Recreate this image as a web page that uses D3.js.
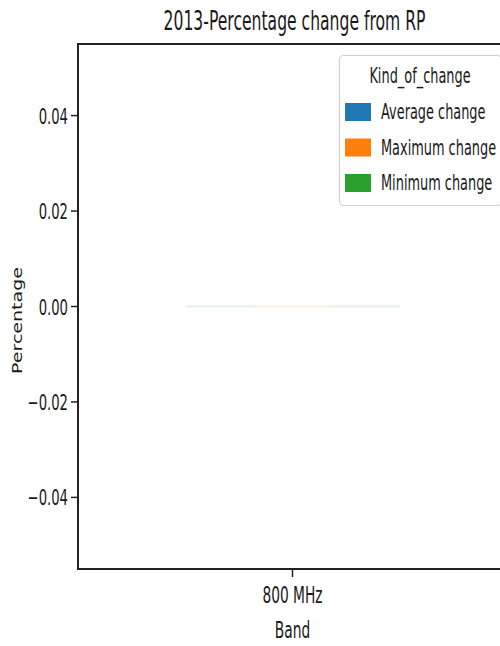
<!DOCTYPE html>
<html>
<head>
<meta charset="utf-8">
<script src="https://cdn.jsdelivr.net/npm/d3@7"></script>
<style>
  html, body { margin: 0; padding: 0; background: #fff; }
  svg { display: block; }
  text { font-family: "DejaVu Sans", sans-serif; fill: #1a1a1a; }
</style>
</head>
<body>
<svg id="chart" width="500" height="646"></svg>
<script>
// ---- data ----
const categories = ["800 MHz"];
const kinds = ["Average change", "Maximum change", "Minimum change"];
const averageChange = [0];
const maximumChange = [0];
const minimumChange = [0];
const yTicks = [-0.04, -0.02, 0.00, 0.02, 0.04];
const title = "2013-Percentage change from RP";
const xLabel = "Band";
const yLabel = "Percentage";
const legendTitle = "Kind_of_change";

const seriesValues = [averageChange, maximumChange, minimumChange];
const colors = ["#1f77b4", "#ff7f0e", "#2ca02c"];

(function () {
const svg = d3.select("#chart");
const mLeft = 78, mRight = 507, mTop = 44, mBottom = 569;
const SX = 0.6; // horizontal squeeze of text

const x = d3.scaleLinear().domain([-0.8, 0.8]).range([mLeft, mRight]);
const y = d3.scaleLinear().domain([-0.055, 0.055]).range([mBottom, mTop]);
const groupWidth = 0.8;
const barW = groupWidth / kinds.length;

// bars
const bars = [];
categories.forEach((c, ci) => {
  kinds.forEach((k, ki) => {
    bars.push({ci, ki, v: seriesValues[ki][ci]});
  });
});
const gBars = svg.append("g");
gBars.selectAll("rect.bar").data(bars).enter().append("rect")
  .attr("class", "bar")
  .attr("x", d => x(d.ci - groupWidth / 2 + d.ki * barW))
  .attr("width", d => x(barW) - x(0))
  .attr("y", d => y(Math.max(0, d.v)))
  .attr("height", d => Math.abs(y(d.v) - y(0)))
  .attr("fill", d => colors[d.ki]);
// faint edge of (zero-height) bars
gBars.selectAll("line.edge").data(bars).enter().append("line")
  .attr("x1", d => x(d.ci - groupWidth / 2 + d.ki * barW))
  .attr("x2", d => x(d.ci - groupWidth / 2 + (d.ki + 1) * barW))
  .attr("y1", d => y(d.v)).attr("y2", d => y(d.v))
  .attr("stroke", d => colors[d.ki]).attr("stroke-opacity", 0.12)
  .attr("stroke-width", 2);

// spines
const spineColor = "#222";
svg.append("rect").attr("x", mLeft).attr("y", mTop)
  .attr("width", mRight - mLeft).attr("height", mBottom - mTop)
  .attr("fill", "none").attr("stroke", spineColor).attr("stroke-width", 2);

// y ticks
const gy = svg.append("g");
yTicks.forEach(t => {
  gy.append("line").attr("x1", mLeft - 7).attr("x2", mLeft)
    .attr("y1", y(t)).attr("y2", y(t)).attr("stroke", spineColor).attr("stroke-width", 1.5);
  const lbl = d3.format(".2f")(t).replace("-", "\u2212");
  gy.append("text")
    .attr("transform", `translate(${mLeft - 10},${y(t) + 8}) scale(${SX},1)`)
    .attr("text-anchor", "end").attr("font-size", 22).text(lbl);
});

// x ticks
const gx = svg.append("g");
categories.forEach((c, i) => {
  gx.append("line").attr("x1", x(i)).attr("x2", x(i))
    .attr("y1", mBottom).attr("y2", mBottom + 8).attr("stroke", spineColor).attr("stroke-width", 1.5);
  gx.append("text")
    .attr("transform", `translate(${x(i)},${mBottom + 34}) scale(${SX},1)`)
    .attr("text-anchor", "middle").attr("font-size", 23).text(c);
});

// axis labels
svg.append("text")
  .attr("transform", `translate(${x(0)},${638}) scale(${SX},1)`)
  .attr("text-anchor", "middle").attr("font-size", 23).text(xLabel);
svg.append("text")
  .attr("transform", `translate(${22},${y(0) + 14}) scale(0.72,1) rotate(-90)`)
  .attr("text-anchor", "middle").attr("font-size", 19).text(yLabel);

// title
svg.append("text")
  .attr("transform", `translate(${x(0) + 2},${30}) scale(${SX},1)`)
  .attr("text-anchor", "middle").attr("font-size", 26).text(title);

// legend
const lg = svg.append("g");
lg.append("rect").attr("x", 339.5).attr("y", 55.5).attr("width", 162).attr("height", 150)
  .attr("rx", 4).attr("fill", "#fff").attr("fill-opacity", 0.8)
  .attr("stroke", "#d0d0d0").attr("stroke-width", 1.2);
lg.append("text")
  .attr("transform", `translate(${420},${83}) scale(${SX},1)`)
  .attr("text-anchor", "middle").attr("font-size", 21.5).text(legendTitle);
kinds.forEach((k, i) => {
  const yy = 103 + i * 35.5;
  lg.append("rect").attr("x", 345).attr("y", yy).attr("width", 26).attr("height", 18)
    .attr("fill", colors[i]);
  lg.append("text")
    .attr("transform", `translate(${381},${yy + 16}) scale(${SX},1)`)
    .attr("font-size", 21.5).text(k);
});
})();
</script>
</body>
</html>
